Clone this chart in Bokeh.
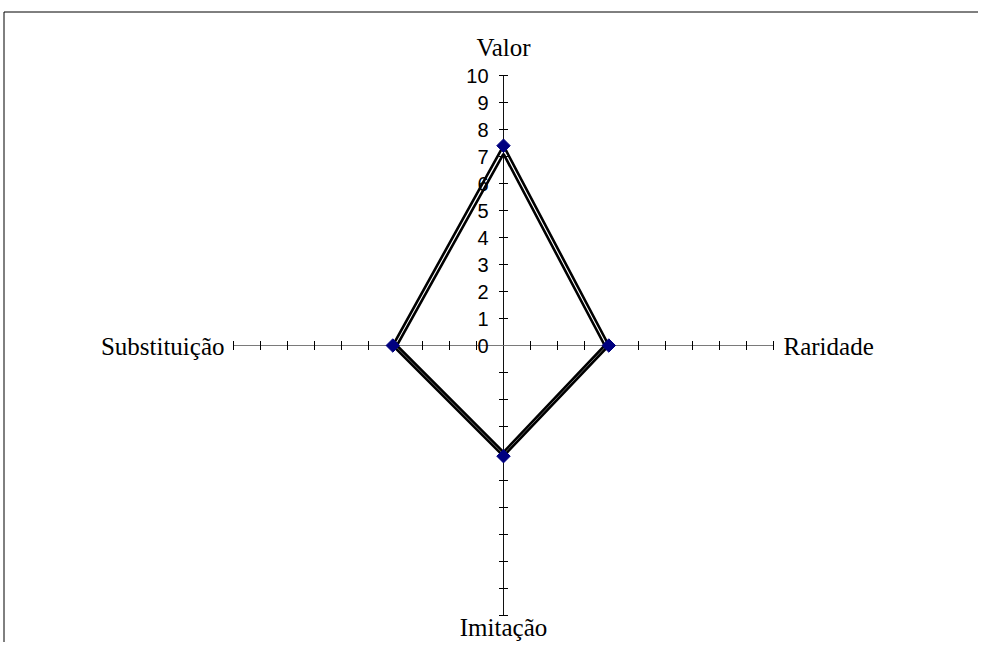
import math
from bokeh.plotting import figure
from bokeh.models import Range1d
from bokeh.core.properties import value
from bokeh.embed import file_html
from bokeh.resources import INLINE

# ---- data ----
categories = ["Valor", "Raridade", "Imitação", "Substituição"]
series_a = [7.4, 3.9, 4.1, 4.1]      # series with diamond markers
series_b = [7.1, 3.75, 3.95, 3.95]   # second, overlapping series
tick_values = list(range(0, 11))
tick_labels = [str(t) for t in tick_values]
axis_max = 10

# ---- layout ----
W, H = 978, 642
PX = 27.0                    # pixels per unit
cx, cy = 503, 345            # centre in canvas pixels
x0, x1 = -cx / PX, (W - cx) / PX
y1, y0 = cy / PX, -(H - cy) / PX

p = figure(width=W, height=H, output_backend="svg", toolbar_location=None,
           x_range=Range1d(x0, x1), y_range=Range1d(y0, y1), min_border=0)
p.axis.visible = False
p.grid.visible = False
p.outline_line_color = None
p.background_fill_color = "white"
p.border_fill_color = "white"

angles = [math.radians(90 - i * 360 / len(categories)) for i in range(len(categories))]

# border (left + top edges, the rest is cut off like the reference)
bl = x0 + 3.5 / PX
bt = y1 - 11.5 / PX
p.segment(x0=[bl, bl], y0=[bt, bt], x1=[bl, x1], y1=[y0, bt], line_color="black", line_width=1)

# axes
ax_x1 = [axis_max * math.cos(a) for a in angles]
ax_y1 = [axis_max * math.sin(a) for a in angles]
colors = ["#111111" if abs(math.cos(a)) < 0.5 else "#7a7a7a" for a in angles]
p.segment(x0=[0] * 4, y0=[0] * 4, x1=ax_x1, y1=ax_y1, line_color=colors, line_width=1)

# tick marks
half = 4.5 / PX
tx0, ty0, tx1, ty1 = [], [], [], []
for a in angles:
    ca, sa = math.cos(a), math.sin(a)
    for t in tick_values[1:]:
        bx, by = t * ca, t * sa
        tx0.append(bx + half * sa); ty0.append(by - half * ca)
        tx1.append(bx - half * sa); ty1.append(by + half * ca)
p.segment(x0=tx0, y0=ty0, x1=tx1, y1=ty1, line_color="black", line_width=1)

# tick labels on the first (Valor) axis
p.text(x=[t * math.cos(angles[0]) for t in tick_values],
       y=[t * math.sin(angles[0]) for t in tick_values],
       text=tick_labels, text_align="right", text_baseline="middle",
       x_offset=-15, y_offset=0, text_font=value("Liberation Sans"),
       text_font_size="20px", text_color="black")

# category labels
serif = value("Liberation Serif")
fs = "25px"
p.text(x=[0], y=[axis_max], text=[categories[0]], text_align="center",
       text_baseline="alphabetic", y_offset=-28, text_font=serif,
       text_font_size=fs, text_color="black")
p.text(x=[axis_max], y=[0], text=[categories[1]], text_align="left",
       text_baseline="alphabetic", x_offset=10, y_offset=1, text_font=serif,
       text_font_size=fs, text_color="black")
p.text(x=[0], y=[-axis_max], text=[categories[2]], text_align="center",
       text_baseline="alphabetic", y_offset=12, text_font=serif,
       text_font_size=fs, text_color="black")
p.text(x=[-axis_max], y=[0], text=[categories[3]], text_align="right",
       text_baseline="alphabetic", x_offset=-9, y_offset=1, text_font=serif,
       text_font_size=fs, text_color="black")

# series
def poly(vals):
    xs = [v * math.cos(a) for v, a in zip(vals, angles)]
    ys = [v * math.sin(a) for v, a in zip(vals, angles)]
    return xs + xs[:1], ys + ys[:1]

bx, by = poly(series_b)
p.line(bx, by, line_color="black", line_width=2.6, line_join="miter")
ax_, ay_ = poly(series_a)
p.line(ax_, ay_, line_color="black", line_width=2.6, line_join="miter")
p.scatter(ax_[:-1], ay_[:-1], marker="square", angle=math.pi / 4, size=9.5,
          fill_color="#000080", line_color="#000080")

open("out.html", "w").write(file_html(p, INLINE))
